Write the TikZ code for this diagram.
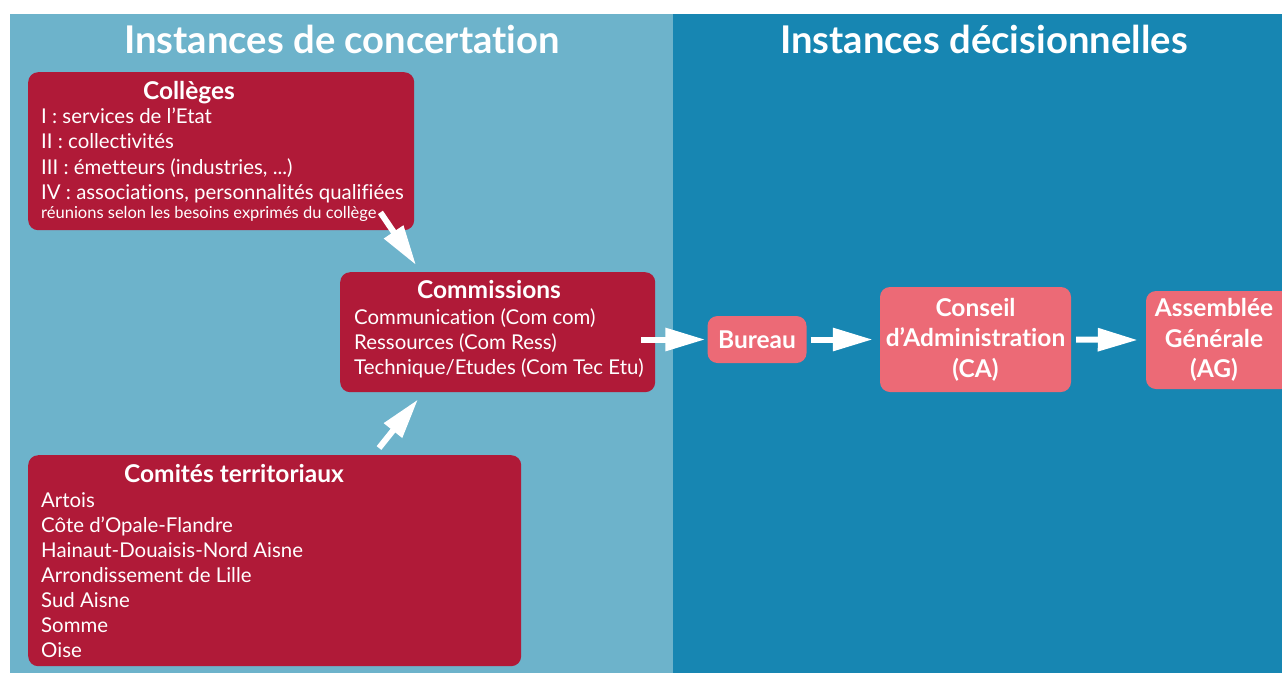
\documentclass[tikz,border=0pt]{standalone}
\usepackage{fontspec}
\setmainfont{Lato}[Ligatures=NoCommon]
\usetikzlibrary{arrows.meta,calc}
\definecolor{lightpanel}{HTML}{6DB3CB}
\definecolor{darkpanel}{HTML}{1786B2}
\definecolor{boxred}{HTML}{B01A38}
\definecolor{boxpink}{HTML}{EC6A76}
\begin{document}
\begin{tikzpicture}[x=1pt,y=-1pt,
  redbox/.style={fill=boxred, rounded corners=10pt, inner sep=0pt, anchor=north west},
  pinkbox/.style={fill=boxpink, rounded corners=10pt, inner sep=0pt, text=white,
    font=\bfseries\fontsize{24.5}{30.5}\selectfont, align=center},
  paneltitle/.style={text=white, font=\bfseries\fontsize{38.2}{42}\selectfont, anchor=base},
  ttl/.style={text=white, font=\bfseries\fontsize{24.5}{28}\selectfont, anchor=base},
  itm/.style={text=white, font=\fontsize{20.4}{25}\selectfont, anchor=base west, inner sep=0pt},
  smallitm/.style={itm, font=\fontsize{16.5}{18}\selectfont},
  arr/.style={draw=white, line width=6pt, -{Triangle[length=40pt,width=22pt]}}
]
\useasboundingbox (0,0) rectangle (1282,673);
\fill[white] (0,0) rectangle (1282,673);
\fill[lightpanel] (10,14) rectangle (673,673);
\fill[darkpanel] (673,14) rectangle (1282,673);

\node[paneltitle] (t1) at (342,53) {Instances de concertation};
\node[paneltitle] (t2) at (984,53) {Instances décisionnelles};

% Colleges
\node[redbox, minimum width=386pt, minimum height=158pt] (colleges) at (28,72) {};
\node[ttl] (collegesT) at (189,99) {Collèges};
\node[itm] (c1) at (41,123) {I : services de l’Etat};
\node[itm] (c2) at (41,148) {II : collectivités};
\node[itm] (c3) at (41,174) {III : émetteurs (industries, ...)};
\node[itm] (c4) at (41,199) {IV : associations, personnalités qualifiées};
\node[smallitm] (c5) at (41,218) {réunions selon les besoins exprimés du collège};

% Commissions
\node[redbox, minimum width=315pt, minimum height=120pt] (comm) at (340,272) {};
\node[ttl] (commT) at (489,298) {Commissions};
\node[itm] (m1) at (354,324) {Communication (Com com)};
\node[itm] (m2) at (354,349) {Ressources (Com Ress)};
\node[itm] (m3) at (354,374) {Technique/Etudes (Com Tec Etu)};

% Comites
\node[redbox, minimum width=493pt, minimum height=211pt] (comites) at (28,455) {};
\node[ttl] (comitesT) at (234,482) {Comités territoriaux};
\node[itm] (k1) at (41,507) {Artois};
\node[itm] (k2) at (41,532) {Côte d’Opale-Flandre};
\node[itm] (k3) at (41,557) {Hainaut-Douaisis-Nord Aisne};
\node[itm] (k4) at (41,582) {Arrondissement de Lille};
\node[itm] (k5) at (41,607) {Sud Aisne};
\node[itm] (k6) at (41,632) {Somme};
\node[itm] (k7) at (41,657) {Oise};

% Decision boxes
\node[pinkbox, minimum width=99pt, minimum height=47pt] (bureau) at (757,339.5) {Bureau};
\node[pinkbox, minimum width=191pt, minimum height=105pt] (ca) at (975.5,339.5) {Conseil\\d’Administration\\(CA)};
% AG box runs past the right edge of the picture
\fill[boxpink, rounded corners=10pt] (1146,291) rectangle (1300,389);
\node[pinkbox, fill=none, minimum width=136pt, minimum height=98pt] (ag) at (1214,340) {Assemblée\\Générale\\(AG)};

% Arrows
\draw[arr] ($(colleges.south east)+(-34,-18)$) -- ($(comm.north west)+(76,-7)$);
\draw[arr] ($(comites.north west)+(351,-7)$) -- ($(comm.south west)+(78,7)$);
\draw[arr] ($(comm.east |- bureau.west)+(-14,0)$) -- ($(bureau.west)+(-2,0)$);
\draw[arr] ($(bureau.east)+(4,0)$) -- ($(ca.west)+(-7,0)$);
\draw[arr] ($(ca.east)+(5,0)$) -- ($(ag.west)+(-8,0)$);
\end{tikzpicture}
\end{document}
